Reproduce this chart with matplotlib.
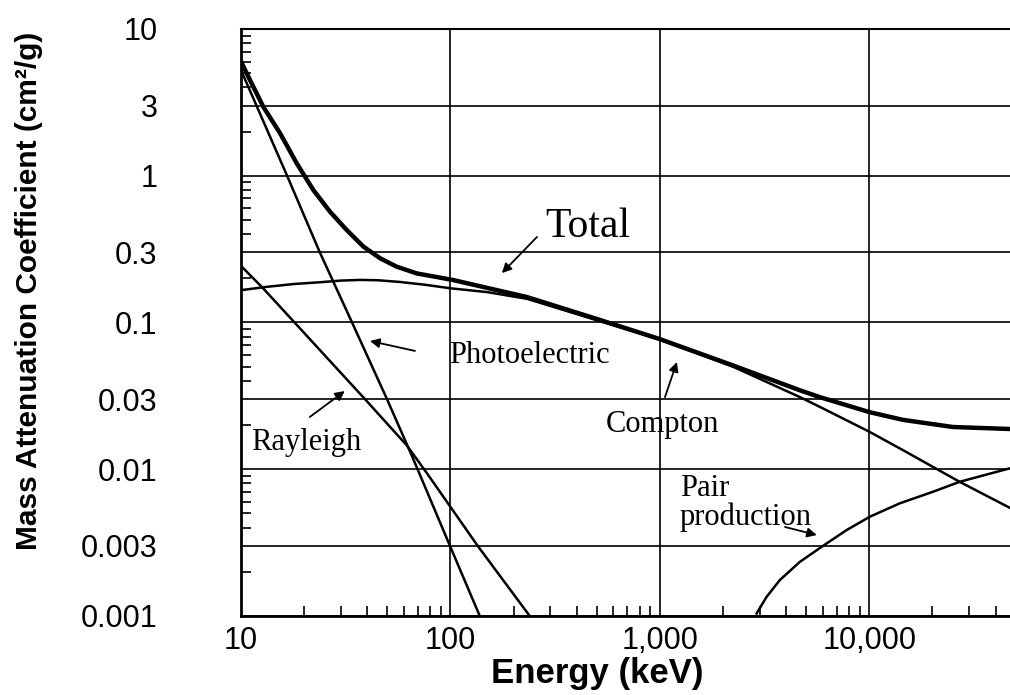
import numpy as np
import matplotlib
matplotlib.use("Agg")
import matplotlib.pyplot as plt
from matplotlib.ticker import FixedLocator, FixedFormatter, LogLocator, NullFormatter

# valores (energía en keV, coeficiente en cm²/g)
total_e = [10, 11.04, 12.78, 15.36, 18.45, 22.14, 26.6, 31.95, 38.4, 46.1, 55.4, 69.0, 102.4,
           232, 518, 1000, 2230, 4660, 5800, 10000, 14450, 25000, 46900]
total_mu = [6.0, 4.49, 2.95, 1.95, 1.216, 0.80, 0.569, 0.427, 0.329, 0.274, 0.240, 0.216, 0.195,
            0.149, 0.104, 0.077, 0.051, 0.0345, 0.031, 0.0245, 0.0217, 0.0194, 0.0188]

photo_e = [10, 16.6, 23.8, 33.9, 49.8, 66, 99.5, 138]
photo_mu = [5.25, 1.0, 0.3, 0.1, 0.03, 0.012, 0.003, 0.001]

compton_e = [10, 13.3, 18, 23.8, 30, 37, 45, 57, 75, 100, 150, 232, 518, 1000, 2230, 4660, 5800,
             10000, 14450, 27000, 46900]
compton_mu = [0.166, 0.175, 0.183, 0.188, 0.193, 0.195, 0.194, 0.189, 0.181, 0.171, 0.161, 0.145,
              0.102, 0.0765, 0.050, 0.031, 0.0266, 0.018, 0.0135, 0.0082, 0.00545]

rayleigh_e = [10, 12.7, 18.5, 39.1, 62, 78, 135, 239]
rayleigh_mu = [0.243, 0.172, 0.096, 0.03, 0.0145, 0.0092, 0.003, 0.001]

pair_e = [2894, 3230, 3740, 4660, 5913, 7783, 10056, 13980, 20160, 27040, 46850]
pair_mu = [0.00104, 0.00135, 0.00176, 0.00234, 0.00296, 0.00385, 0.00475, 0.00586, 0.00703,
           0.00822, 0.01015]

x_ticks = [10, 100, 1000, 10000]
x_tick_labels = ["10", "100", "1,000", "10,000"]
y_ticks = [0.001, 0.003, 0.01, 0.03, 0.1, 0.3, 1, 3, 10]
y_tick_labels = ["0.001", "0.003", "0.01", "0.03", "0.1", "0.3", "1", "3", "10"]

# etiquetas: (texto, posición del texto, cola de flecha, punta de flecha)
labels = [
    ("Total", (453, 0.448), (259, 0.383), (176, 0.217)),
    ("Photoelectric", (237, 0.060), (67.7, 0.064), (41.3, 0.0748)),
    ("Compton", (1024, 0.0203), (1057, 0.031), (1205, 0.0538)),
    ("Rayleigh", (20.4, 0.0151), (21.3, 0.0227), (31.3, 0.0341)),
]
pair_label = ("Pair\nproduction", (1245, 0.0059), (3955, 0.00404), (5610, 0.00356))

sans = ["Liberation Sans", "DejaVu Sans"]
serif = ["Liberation Serif", "DejaVu Serif"]

fig = plt.figure(figsize=(10.1, 6.95), dpi=100)
ax = fig.add_axes([0.2386, 0.1137, 0.7614, 0.8446])
ax.set_xscale("log")
ax.set_yscale("log")
ax.set_xlim(10, 46900)
ax.set_ylim(0.001, 10)

ax.plot(total_e, total_mu, color="black", lw=3.2, zorder=4)
ax.plot(photo_e, photo_mu, color="black", lw=1.8, zorder=3)
ax.plot(compton_e, compton_mu, color="black", lw=1.8, zorder=3)
ax.plot(rayleigh_e, rayleigh_mu, color="black", lw=1.8, zorder=3)
ax.plot(pair_e, pair_mu, color="black", lw=1.8, zorder=3)

ax.xaxis.set_major_locator(FixedLocator(x_ticks))
ax.xaxis.set_major_formatter(FixedFormatter(x_tick_labels))
ax.xaxis.set_minor_locator(LogLocator(base=10, subs=np.arange(2, 10)))
ax.xaxis.set_minor_formatter(NullFormatter())
ax.yaxis.set_major_locator(FixedLocator(y_ticks))
ax.yaxis.set_major_formatter(FixedFormatter(y_tick_labels))
ax.yaxis.set_minor_locator(LogLocator(base=10, subs=[2, 4, 5, 6, 7, 8, 9]))
ax.yaxis.set_minor_formatter(NullFormatter())

ax.tick_params(which="major", length=0)
ax.tick_params(axis="y", which="major", pad=60)
ax.tick_params(axis="x", which="major", pad=7)
ax.tick_params(which="minor", direction="in", length=7, width=1.2, color="black")
for lab in ax.get_xticklabels() + ax.get_yticklabels():
    lab.set_family(sans)
    lab.set_fontsize(22)

ax.grid(True, which="major", color="black", lw=1.2)
ax.spines["right"].set_visible(False)
ax.spines["left"].set_linewidth(2)
ax.spines["bottom"].set_linewidth(2)
ax.spines["top"].set_linewidth(1.5)

arrow = dict(arrowstyle="-|>", color="black", lw=1.3, mutation_scale=14, shrinkA=0, shrinkB=0)
for text, pos, tail, head in labels:
    size = 30 if text == "Total" else 22
    ax.text(pos[0], pos[1], text, family=serif, fontsize=size, ha="center", va="center", zorder=5)
    ax.annotate("", xy=head, xytext=tail, arrowprops=arrow, zorder=5)

ax.text(pair_label[1][0], pair_label[1][1], pair_label[0], family=serif, fontsize=22,
        ha="left", va="center", linespacing=1.0, zorder=5)
ax.annotate("", xy=pair_label[3], xytext=pair_label[2], arrowprops=arrow, zorder=5)

fig.text(597 / 1010, 1 - 673 / 695, "Energy (keV)", family=sans, fontsize=25,
         fontweight="bold", ha="center", va="center")
fig.text(29 / 1010, 1 - 291 / 695, "Mass Attenuation Coefficient (cm²/g)", family=sans,
         fontsize=21.5, fontweight="bold", ha="center", va="center", rotation=90)

fig.savefig("out.png", dpi=100)
